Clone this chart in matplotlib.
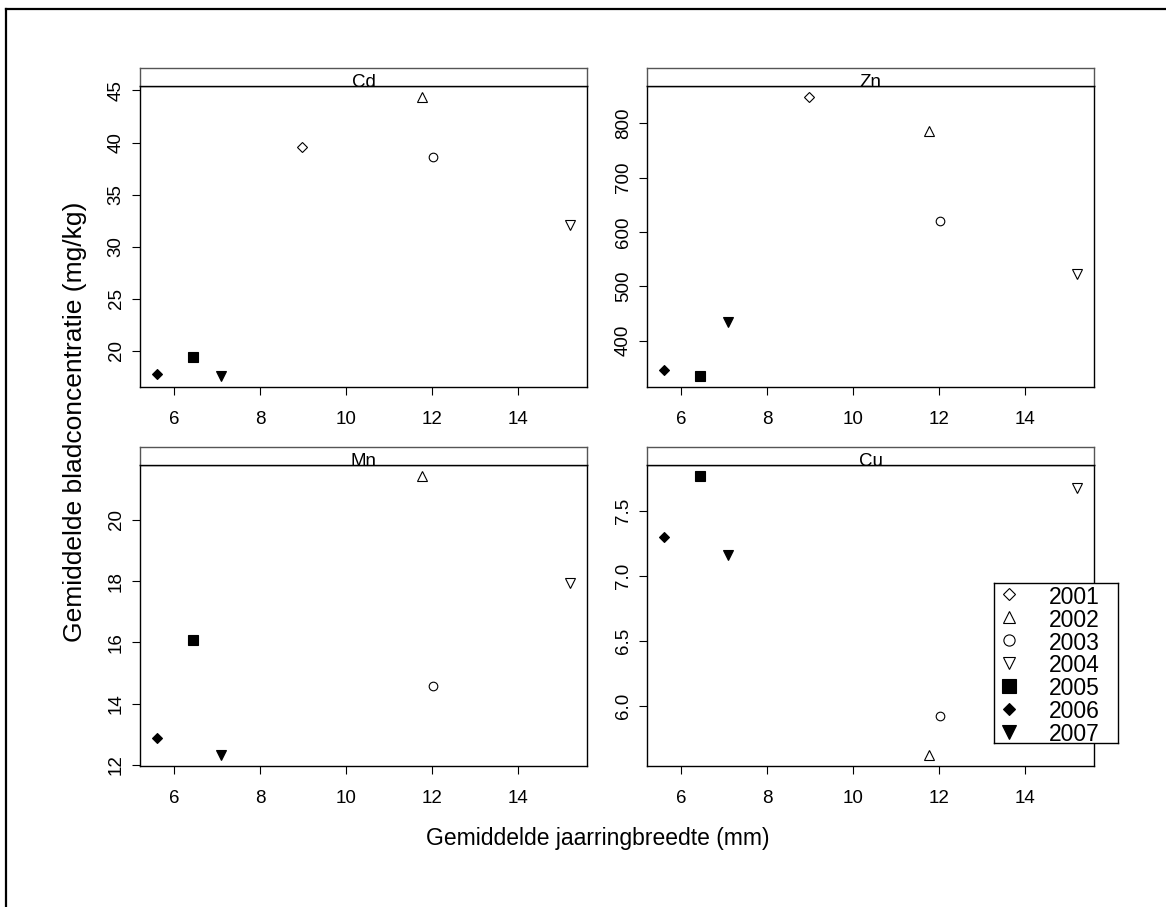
import matplotlib
matplotlib.use('Agg')
import matplotlib.pyplot as plt
from matplotlib.lines import Line2D
from matplotlib.ticker import MultipleLocator, FormatStrFormatter
import numpy as np

plt.rcParams['font.family'] = ['Liberation Sans', 'DejaVu Sans']

years = ['2001', '2002', '2003', '2004', '2005', '2006', '2007']
# mean ring width (mm) per year
ringwidth = [8.97, 11.77, 12.02, 15.21, 6.45, 5.60, 7.09]
# mean leaf concentration (mg/kg) per element
cd = [39.56, 44.36, 38.60, 32.10, 19.45, 17.80, 17.60]
zn = [848, 786, 620, 523, 335, 346, 435]
mn = [np.nan, 21.43, 14.57, 17.94, 16.08, 12.88, 12.33]
cu = [np.nan, 5.62, 5.92, 7.68, 7.77, 7.30, 7.16]

elements = ['Cd', 'Zn', 'Mn', 'Cu']
values = [cd, zn, mn, cu]
ysteps = [5, 100, 2, 0.5]
yfmts = ['%d', '%d', '%d', '%.1f']

# marker, filled, size
styles = [('D', False, 5.0), ('^', False, 6.6), ('o', False, 6.2), ('v', False, 6.8),
          ('s', True, 7.2), ('D', True, 4.8), ('v', True, 7.4)]

W, H = 1166, 907
fig = plt.figure(figsize=(W / 100, H / 100), dpi=100)

def px_box(l, t, r, b):
    return [l / W, 1 - b / H, (r - l) / W, (b - t) / H]

boxes = [(140, 86, 587, 387), (647, 86, 1094, 387),
         (140, 465, 587, 766), (647, 465, 1094, 766)]

for el, vals, step, fmt, (l, t, r, b) in zip(elements, values, ysteps, yfmts, boxes):
    ax = fig.add_axes(px_box(l, t, r, b))
    for x, y, (m, filled, ms) in zip(ringwidth, vals, styles):
        if np.isnan(y):
            continue
        ax.plot([x], [y], linestyle='none', marker=m, markersize=ms,
                markerfacecolor='black' if filled else 'none',
                markeredgecolor='black', markeredgewidth=0.8)
    ax.margins(x=0.04, y=0.04)
    ax.xaxis.set_major_locator(MultipleLocator(2))
    ax.yaxis.set_major_locator(MultipleLocator(step))
    ax.yaxis.set_major_formatter(FormatStrFormatter(fmt))
    ax.tick_params(direction='out', length=6, width=0.8, labelsize=13.5, color='black')
    ax.tick_params(axis='x', pad=11)
    ax.tick_params(axis='y', pad=5, labelrotation=90)
    plt.setp(ax.get_yticklabels(), va='center')
    for s in ax.spines.values():
        s.set_linewidth(1.0)

    # strip with panel name
    st = fig.add_axes(px_box(l, t - 18, r, t))
    st.set_xticks([])
    st.set_yticks([])
    for s in st.spines.values():
        s.set_edgecolor('#555555')
        s.set_linewidth(1.0)
    st.spines['bottom'].set_edgecolor('black')
    st.text(0.5, -0.03, el, ha='center', va='baseline', fontsize=13.5,
            transform=st.transAxes, clip_on=False)

fig.text(598 / W, 1 - 838 / H, 'Gemiddelde jaarringbreedte (mm)',
         ha='center', va='center', fontsize=16.5)
fig.text(75 / W, 1 - 422 / H, 'Gemiddelde bladconcentratie (mg/kg)',
         ha='center', va='center', rotation=90, fontsize=19)

# legend box drawn in its own pixel-unit axes
lg = fig.add_axes(px_box(994, 583, 1118, 743), zorder=5)
lg.set_xlim(0, 124)
lg.set_ylim(160, 0)
lg.set_xticks([])
lg.set_yticks([])
lg.set_facecolor('white')
for s in lg.spines.values():
    s.set_linewidth(1.0)
row = 160 / len(years)
for i, (yr, (m, filled, ms)) in enumerate(zip(years, styles)):
    yc = row * (i + 0.5)
    lg.plot([15], [yc], linestyle='none', marker=m, markersize=ms * 1.3,
            markerfacecolor='black' if filled else 'none',
            markeredgecolor='black', markeredgewidth=0.8, clip_on=False)
    lg.text(55, yc + 3, yr, ha='left', va='center', fontsize=16.5, clip_on=False)

# outer frame (top and left edges)
fig.add_artist(Line2D([6 / W, 6 / W], [0, 1 - 9 / H], color='black', linewidth=1.6))
fig.add_artist(Line2D([6 / W, 1], [1 - 9 / H, 1 - 9 / H], color='black', linewidth=1.6))

fig.savefig('out.png', dpi=100)
